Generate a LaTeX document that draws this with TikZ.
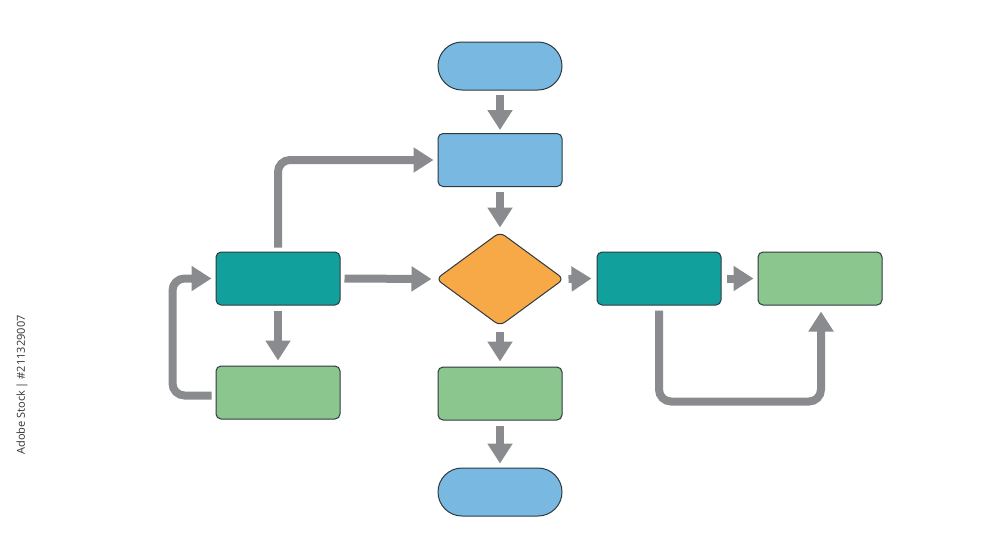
\documentclass[tikz,border=0pt]{standalone}
\usepackage{fontspec}
\setmainfont{Open Sans}
\usetikzlibrary{arrows.meta,shapes.geometric}
\definecolor{cblue}{HTML}{79B8E0}
\definecolor{cteal}{HTML}{11A09C}
\definecolor{cgreen}{HTML}{8CC68F}
\definecolor{corange}{HTML}{F8A947}
\definecolor{carrow}{HTML}{8A8B8E}
\definecolor{cedge}{HTML}{2F3A40}
\tikzset{
  box/.style={draw=cedge,line width=1pt,rounded corners=5pt,minimum width=124pt,minimum height=53pt,inner sep=0pt},
  term/.style={box,rounded corners=24pt,minimum height=48pt,fill=cblue},
  dec/.style={draw=cedge,line width=1pt,shape=diamond,aspect=1.36,minimum width=128pt,minimum height=94pt,inner sep=0pt,rounded corners=6pt,fill=corange},
  arr/.style={draw=carrow,line width=8pt,-{Triangle[width=24pt,length=20pt]}},
  loop/.style={arr,rounded corners=12pt}
}
\begin{document}
\begin{tikzpicture}[x=1pt,y=-1pt]
\useasboundingbox[fill=white] (0,0) rectangle (1000,558);
\node[term] (start) at (500,66) {};
\node[box,fill=cblue] (proc) at (500,160) {};
\node[dec] (dec) at (500,279) {};
\node[box,fill=cteal] (lt) at (278,278.5) {};
\node[box,fill=cgreen] (lg) at (278,392.5) {};
\node[box,fill=cgreen] (mg) at (500,393.5) {};
\node[term] (stop) at (500,492) {};
\node[box,fill=cteal] (rt) at (659,278.5) {};
\node[box,fill=cgreen] (rg) at (820,278.5) {};
\draw[arr] ([yshift=-4]start.south) -- ([yshift=3]proc.north);
\draw[arr] ([yshift=-5]proc.south) -- ([yshift=4]dec.north);
\draw[arr] ([yshift=-5]dec.south) -- ([yshift=5]mg.north);
\draw[arr] ([yshift=-5]mg.south) -- ([yshift=4]stop.north);
\draw[arr] ([xshift=4]lt.east) -- ([xshift=-4]dec.west);
\draw[arr] ([xshift=4]dec.east) -- ([xshift=-5]rt.west);
\draw[arr] ([xshift=5]rt.east) -- ([xshift=-4]rg.west);
\draw[arr] ([yshift=-5]lt.south) -- ([yshift=5]lg.north);
\draw[loop] ([yshift=4]lt.north) |- ([xshift=-4]proc.west);
\draw[loop] ([xshift=-4,yshift=-3]lg.west) -- ++(-39,0) |- ([xshift=-4]lt.west);
\draw[loop] ([yshift=-5]rt.south) -- ++(0,91) -| ([xshift=1,yshift=-6]rg.south);
\node[rotate=90,font=\fontsize{11}{13}\selectfont,text=black!80] (wm) at (22,385) {Adobe Stock | \#211329007};
\end{tikzpicture}
\end{document}
